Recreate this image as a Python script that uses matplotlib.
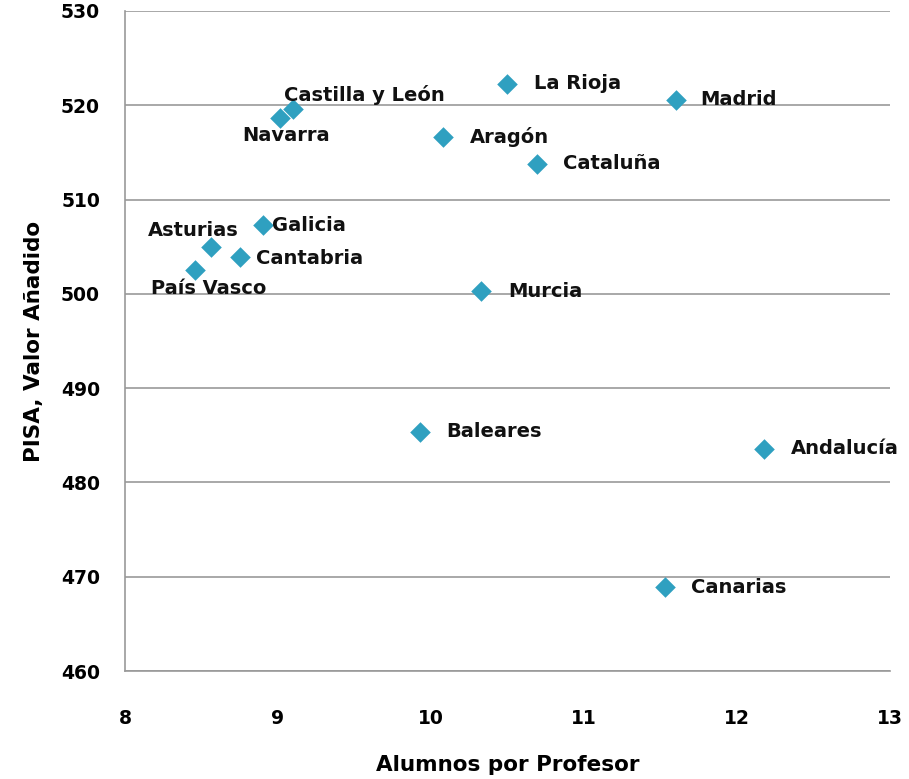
import matplotlib
matplotlib.use("Agg")
import matplotlib.pyplot as plt

regions = ["Castilla y León", "Navarra", "La Rioja", "Madrid", "Aragón", "Cataluña",
           "Galicia", "Asturias", "Cantabria", "País Vasco", "Murcia", "Baleares",
           "Andalucía", "Canarias"]
alumnos = [9.10, 9.01, 10.50, 11.60, 10.08, 10.69, 8.90, 8.56, 8.75, 8.46, 10.33, 9.93, 12.18, 11.53]
pisa = [519.6, 518.7, 522.3, 520.6, 516.6, 513.8, 507.3, 505.0, 503.9, 502.5, 500.3, 485.4, 483.6, 468.9]

# label offsets in points and alignment
offsets = {
    "Castilla y León": (-7, 10, "left"),
    "Navarra": (5, -13, "center"),
    "La Rioja": (19, 0, "left"),
    "Madrid": (18, 0, "left"),
    "Aragón": (19, 0, "left"),
    "Cataluña": (19, 0, "left"),
    "Galicia": (7, 0, "left"),
    "Asturias": (20, 12, "right"),
    "Cantabria": (12, -1, "left"),
    "País Vasco": (-32, -13, "left"),
    "Murcia": (19, 0, "left"),
    "Baleares": (19, 0, "left"),
    "Andalucía": (19, 0, "left"),
    "Canarias": (19, 0, "left"),
}

fig = plt.figure(figsize=(9.09, 7.79), dpi=100)
ax = fig.add_axes([0.1375, 0.1386, 0.8415, 0.8473])

ax.scatter(alumnos, pisa, marker="D", s=110, color="#2FA0C0", zorder=3, linewidths=0)

for name, x, y in zip(regions, alumnos, pisa):
    dx, dy, ha = offsets[name]
    ax.annotate(name, (x, y), xytext=(dx, dy), textcoords="offset points",
                ha=ha, va="center", fontsize=14, fontweight="bold", color="#111111")

ax.set_xlim(8, 13)
ax.set_ylim(460, 530)
ax.set_xticks(range(8, 14))
ax.set_yticks(range(460, 531, 10))
ax.grid(axis="y", color="#999999", linewidth=1.2)
ax.set_axisbelow(True)
for s in ["top", "right"]:
    ax.spines[s].set_visible(False)
for s in ["left", "bottom"]:
    ax.spines[s].set_color("#999999")
    ax.spines[s].set_linewidth(1.2)
ax.tick_params(length=0, labelsize=13.5)
ax.tick_params(axis="x", pad=27)
ax.tick_params(axis="y", pad=18)
for lab in ax.get_xticklabels() + ax.get_yticklabels():
    lab.set_fontweight("bold")

ax.set_xlabel("Alumnos por Profesor", fontsize=15.5, fontweight="bold", labelpad=20)
ax.set_ylabel("PISA, Valor Añadido", fontsize=15.5, fontweight="bold", labelpad=12)

fig.savefig("out.png", dpi=100)
